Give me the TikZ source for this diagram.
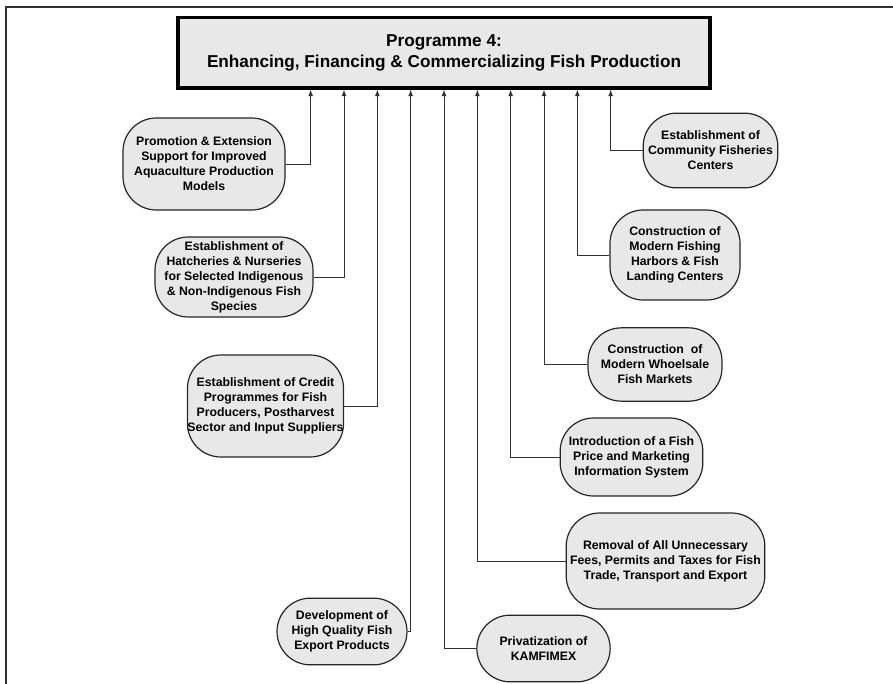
\documentclass[tikz,border=0pt]{standalone}
\usepackage{fontspec}
\setmainfont{Liberation Sans}

\begin{document}
\begin{tikzpicture}[x=0.75pt, y=-0.75pt]
\tikzset{ >=latex,
  goal/.style={draw, line width=2.4pt, fill=black!9, align=center,
    font=\bfseries\fontsize{12.9}{15.75}\selectfont},
  task/.style={draw=black!85, line width=0.9pt, fill=black!9, rounded corners=25pt,
    align=center, inner sep=0pt, font=\bfseries\fontsize{9.2}{11.2}\selectfont},
  link/.style={->, draw=black!80, line width=0.7pt},
}
\useasboundingbox (0,0) rectangle (893,684);

%\draw [lightgray, dashed](0,0) grid [step=50] (893,684);

\draw [black!80, line width=1.1pt] (893,7) -- (6,7) -- (6,684);

\node [goal, minimum width=399pt, minimum height=53pt] (P) at (444,52.75)
  {Programme 4:\\Enhancing, Financing \& Commercializing Fish Production};

% left column
\node [task, minimum width=121.5pt, minimum height=69pt] (PR) at (204,164)
  {Promotion \& Extension\\Support for Improved\\Aquaculture Production\\Models};
\node [task, minimum width=118.5pt, minimum height=60pt] (HN) at (234,277)
  {Establishment of\\Hatcheries \& Nurseries\\for Selected Indigenous\\\& Non-Indigenous Fish\\Species};
\node [task, minimum width=116pt, minimum height=76.5pt] (CR) at (265.5,406)
  {Establishment of Credit\\Programmes for Fish\\Producers, Postharvest\\Sector and Input Suppliers};
\node [task, minimum width=97.5pt, minimum height=50pt] (DV) at (342,631.5)
  {Development of\\High Quality Fish\\Export Products};
\node [task, minimum width=100pt, minimum height=50pt] (PV) at (543.5,648.5)
  {Privatization of\\KAMFIMEX};

% right column
\node [task, minimum width=149pt, minimum height=72pt] (RM) at (665.5,561)
  {Removal of All Unnecessary\\Fees, Permits and Taxes for Fish\\Trade, Transport and Export};
\node [task, minimum width=107pt, minimum height=58.5pt] (IN) at (631.5,457)
  {Introduction of a Fish\\Price and Marketing\\Information System};
\node [task, minimum width=100.5pt, minimum height=55pt] (WM) at (655,364.5)
  {Construction\ \ of\\Modern Whoelsale\\Fish Markets};
\node [task, minimum width=97.5pt, minimum height=67.5pt] (FH) at (675,255)
  {Construction of\\Modern Fishing\\Harbors \& Fish\\Landing Centers};
\node [task, minimum width=101pt, minimum height=56pt] (CF) at (710.5,150.5)
  {Establishment of\\Community Fisheries\\Centers};

\draw [link] (PR.east) -| ([xshift=-100pt]P.south);
\draw [link] (HN.east) -| ([xshift=-75pt]P.south);
\draw [link] (CR.east) -| ([xshift=-50pt]P.south);
\draw [link] (DV.east) -| ([xshift=-25pt]P.south);
\draw [link] (PV.west) -| (P.south);
\draw [link] (RM.west) -| ([xshift=25pt]P.south);
\draw [link] (IN.west) -| ([xshift=50pt]P.south);
\draw [link] (WM.west) -| ([xshift=75pt]P.south);
\draw [link] (FH.west) -| ([xshift=100pt]P.south);
\draw [link] (CF.west) -| ([xshift=125pt]P.south);
\end{tikzpicture}
\end{document}
